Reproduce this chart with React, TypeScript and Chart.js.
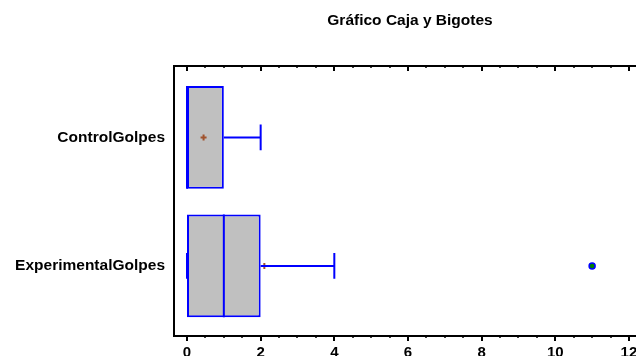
import React, { useEffect, useRef } from 'react';
import { Chart, registerables } from 'chart.js';

Chart.register(...registerables);

// ---- data ----
const categories = ['ControlGolpes', 'ExperimentalGolpes'];
const lowerQuartile = [0, 0];
const medians = [0, 1];
const upperQuartile = [1, 2];
const whiskerLow = [0, 0];
const whiskerHigh = [2, 4];
const means = [0.45, 2.1];
const outliers: number[][] = [[], [11]];
const xTicks = [0, 2, 4, 6, 8, 10, 12];
const minorStep = 0.5;
const chartTitle = 'Gráfico Caja y Bigotes';

// ---- styles ----
const BLUE = '#0000ff';
const BOX_FILL = '#c0c0c0';
const MEAN_COLOR = '#a0522d';
const FONT = "'Liberation Sans', Arial, sans-serif";
const BOX_HALF = 0.4;
const CAP_HALF = 0.1;

const tickMarks = {
  id: 'tickMarks',
  afterDraw(chart: any) {
    const xs = chart.scales.x;
    const { top, bottom } = chart.chartArea;
    const ctx = chart.ctx;
    ctx.save();
    ctx.strokeStyle = '#000';
    const first = xTicks[0];
    const last = xTicks[xTicks.length - 1];
    for (let v = first; v <= last + 1e-9; v += minorStep) {
      const major = xTicks.some((t) => Math.abs(t - v) < 1e-9);
      const len = major ? 5 : 2;
      ctx.lineWidth = major ? 2 : 1.5;
      const px = Math.round(xs.getPixelForValue(v));
      ctx.beginPath();
      ctx.moveTo(px, bottom);
      ctx.lineTo(px, bottom + len);
      ctx.moveTo(px, top);
      ctx.lineTo(px, top + len);
      ctx.stroke();
    }
    ctx.restore();
  },
};

function seg(x1: number, y1: number, x2: number, y2: number) {
  return {
    type: 'line' as const,
    data: [
      { x: x1, y: y1 },
      { x: x2, y: y2 },
    ],
    borderColor: BLUE,
    borderWidth: 2,
    pointRadius: 0,
    fill: false,
    order: 1,
    xAxisID: 'x',
    yAxisID: 'y',
  };
}

export default function App() {
  const ref = useRef<HTMLCanvasElement>(null);

  useEffect(() => {
    if (!ref.current) return;
    const datasets: any[] = [];
    datasets.push({
      type: 'bar',
      indexAxis: 'y',
      data: categories.map((_, i) => ({ x: [lowerQuartile[i], upperQuartile[i]], y: i })),
      backgroundColor: BOX_FILL,
      borderColor: BLUE,
      borderWidth: 2,
      borderSkipped: false,
      categoryPercentage: 1,
      barPercentage: BOX_HALF * 2,
      order: 10,
      xAxisID: 'x',
      yAxisID: 'y',
    });
    datasets.push({
      type: 'scatter',
      data: categories.map((_, i) => ({ x: means[i], y: i })),
      pointStyle: 'cross',
      pointRadius: 3,
      borderWidth: 2,
      borderColor: MEAN_COLOR,
      backgroundColor: MEAN_COLOR,
      order: 5,
      xAxisID: 'x',
      yAxisID: 'y',
    });
    categories.forEach((_, i) => {
      datasets.push(seg(medians[i], i - BOX_HALF, medians[i], i + BOX_HALF));
      datasets.push(seg(upperQuartile[i], i, whiskerHigh[i], i));
      datasets.push(seg(whiskerLow[i], i, lowerQuartile[i], i));
      datasets.push(seg(whiskerHigh[i], i - CAP_HALF, whiskerHigh[i], i + CAP_HALF));
      datasets.push(seg(whiskerLow[i], i - CAP_HALF, whiskerLow[i], i + CAP_HALF));
    });
    datasets.push({
      type: 'scatter',
      data: outliers.flatMap((arr, i) => arr.map((v) => ({ x: v, y: i }))),
      pointStyle: 'circle',
      pointRadius: 3,
      borderWidth: 1.5,
      borderColor: BLUE,
      backgroundColor: '#008000',
      order: 0,
      xAxisID: 'x',
      yAxisID: 'y',
    });

    const xMin = -0.353;
    const xMax = 12.463;

    const chart = new Chart(ref.current, {
      type: 'scatter',
      data: { datasets },
      plugins: [tickMarks],
      options: {
        responsive: false,
        animation: false,
        layout: { autoPadding: false, padding: 0 },
        plugins: {
          legend: { display: false },
          tooltip: { enabled: false },
          title: {
            display: true,
            text: chartTitle,
            fullSize: false,
            color: '#000',
            font: { family: FONT, size: 15.5, weight: 'bold' },
            padding: { top: 11, bottom: 0 },
          },
        },
        scales: {
          x: {
            type: 'linear',
            position: 'bottom',
            offset: false,
            min: xMin,
            max: xMax,
            afterBuildTicks: (s: any) => {
              s.ticks = xTicks.map((v) => ({ value: v }));
            },
            afterFit: (s: any) => {
              s.height = 20;
              s.paddingLeft = 0;
              s.paddingRight = 0;
            },
            grid: { display: false, drawTicks: false, offset: false },
            border: { display: true, color: '#000', width: 2 },
            ticks: {
              color: '#000',
              font: { family: FONT, size: 15, weight: 'bold' },
              padding: 8,
              maxRotation: 0,
              autoSkip: false,
            },
          },
          x2: {
            type: 'linear',
            position: 'top',
            offset: false,
            min: xMin,
            max: xMax,
            afterFit: (s: any) => {
              s.height = 36.4;
              s.paddingLeft = 0;
              s.paddingRight = 0;
            },
            grid: { display: false, drawTicks: false, offset: false },
            border: { display: true, color: '#000', width: 2 },
            ticks: { display: false },
          },
          y: {
            type: 'linear',
            reverse: true,
            offset: false,
            min: -0.556,
            max: 1.545,
            afterBuildTicks: (s: any) => {
              s.ticks = categories.map((_, i) => ({ value: i }));
            },
            afterFit: (s: any) => {
              s.width = 174;
              s.paddingTop = 0;
              s.paddingBottom = 0;
            },
            grid: { display: false, drawTicks: false, offset: false },
            border: { display: true, color: '#000', width: 2 },
            ticks: {
              color: '#000',
              font: { family: FONT, size: 15.5, weight: 'bold' },
              padding: 9,
              autoSkip: false,
              callback: (v: any) => categories[v as number] ?? '',
            },
          },
        },
      } as any,
    });
    return () => chart.destroy();
  }, []);

  return (
    <div
      style={{
        position: 'absolute',
        left: 0,
        top: 0,
        width: 636,
        height: 356,
        overflow: 'hidden',
        background: '#fff',
      }}
    >
      <canvas ref={ref} width={646} height={356} style={{ display: 'block' }} />
    </div>
  );
}
